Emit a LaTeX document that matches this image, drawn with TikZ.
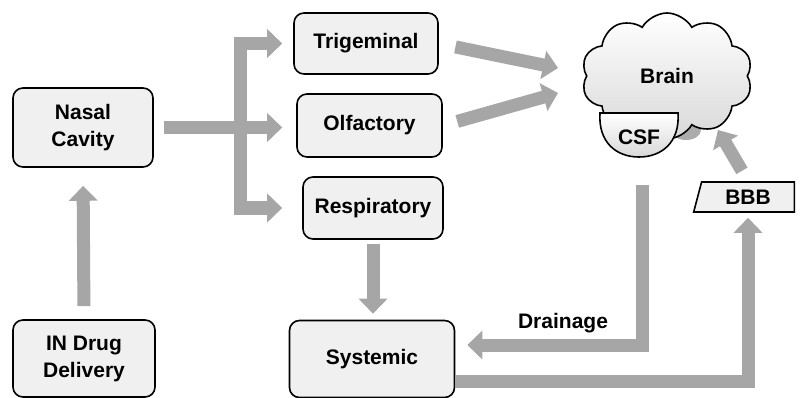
\documentclass[tikz,border=0pt]{standalone}
\usepackage{fontspec}
\setmainfont{Liberation Sans}
\usetikzlibrary{arrows.meta,shapes.geometric,shapes.symbols,calc}
\definecolor{flowgray}{HTML}{A6A6A6}
\definecolor{boxfill}{HTML}{F0F0F0}
\begin{document}
\begin{tikzpicture}[x=1pt,y=-1pt,
  lbl/.style={font=\fontsize{21}{27}\selectfont\bfseries, align=center, inner sep=0pt},
  box/.style={lbl, draw=black, line width=1.6pt, rounded corners=10pt, fill=boxfill},
  flow/.style={draw=flowgray, line width=13pt, -{Triangle[width=28pt,length=15pt]}, line cap=butt, line join=miter}]
\useasboundingbox (0,0) rectangle (800,398);
% nodes
\node[box, minimum width=140pt, minimum height=79pt] (nasal) at (83,127.5) {Nasal\\Cavity};
\node[box, minimum width=142pt, minimum height=77pt] (indrug) at (84,358.5) {IN Drug\\Delivery};
\node[box, minimum width=144pt, minimum height=61pt] (trig) at (366,43.5) {Trigeminal};
\node[box, minimum width=145pt, minimum height=63pt] (olf) at (369.5,125.5) {Olfactory};
\node[box, minimum width=140pt, minimum height=62pt] (resp) at (373,208) {Respiratory};
\node[box, minimum width=165pt, minimum height=77pt] (sys) at (372,359) {Systemic};
% brain
\fill[gray!65] (686,130) ellipse (15 and 10);
\node[cloud, cloud puffs=10, cloud puff arc=120, aspect=1.35, draw, line width=1.6pt,
  top color=white, bottom color=gray!30, minimum width=171pt, minimum height=126pt,
  inner sep=0pt, lbl] (brain) at (667,76) {Brain};
\draw[line width=1.6pt, top color=white, bottom color=gray!30] (600,113) -- (678,113)
  .. controls (680,142) and (662,157) .. (639,157)
  .. controls (616,157) and (598,142) .. (600,113) -- cycle;
\node[lbl] (csf) at (639,137) {CSF};
\node[trapezium, trapezium stretches=true, trapezium left angle=75, trapezium right angle=90,
  draw, line width=1.6pt, fill=boxfill, minimum width=101pt, minimum height=30pt,
  lbl] (bbb) at (748,197) {BBB};
% coordinates
\coordinate (bartop) at (240,40);
\coordinate (barbot) at (240,214);
\coordinate (tb1) at (558,68);
\coordinate (tb2) at (558,93);
\coordinate (csfout) at (642,185);
\coordinate (bb) at (718,130);
% arrows
\draw[flow, shorten <=13pt, shorten >=18pt] (indrug.north) -- (nasal.south);
\draw[flow, shorten <=10pt, shorten >=14pt] (nasal.east) -- (nasal.east -| olf.west);
\draw[flow, shorten >=11pt] (barbot) |- (trig.west);
\draw[flow, shorten >=20pt] (bartop) |- (resp.west);
\draw[flow, shorten <=17pt] (trig.east) -- (tb1);
\draw[flow, shorten <=15pt] (olf.east) -- (tb2);
\draw[flow, shorten <=4pt, shorten >=6pt] (resp.south) -- (resp.south |- sys.north);
\draw[flow, shorten >=12pt] (csfout) |- ([yshift=14pt]sys.east);
\node[lbl] (drainlbl) at (563,323) {Drainage};
\draw[flow, shorten <=1pt, shorten >=5pt] ([yshift=-22pt]sys.east) -| (bbb.south);
\draw[flow, shorten <=12pt] (bbb.north) -- (bb);
\end{tikzpicture}
\end{document}
